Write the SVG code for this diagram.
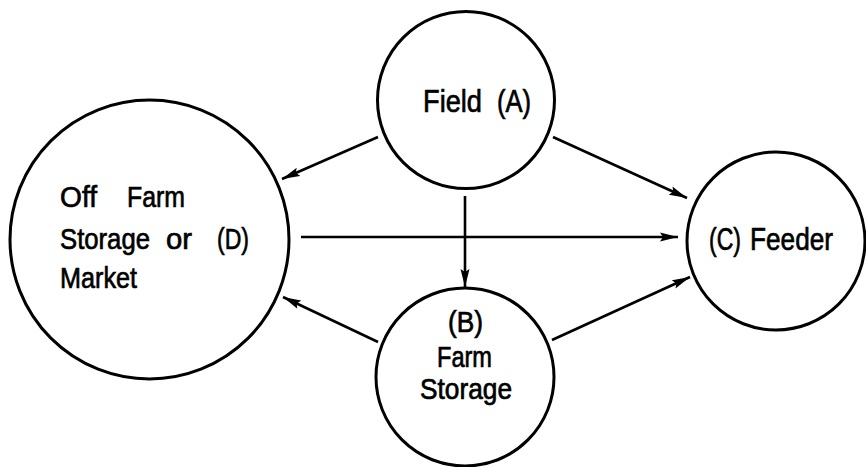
<svg xmlns="http://www.w3.org/2000/svg" width="866" height="467" viewBox="0 0 866 467">
<defs>
<style>
.node circle{fill:none;stroke:#000;stroke-width:3}
.lbl{font-family:"Liberation Sans",Arial,sans-serif;font-size:32px;fill:#000;stroke:#000;stroke-width:0.7}
.lblD{font-size:30px}
.lblB{font-size:29px}
#connectors line{stroke:#000;stroke-width:2.6;fill:none;marker-end:url(#ah)}
</style>
<marker id="ah" markerUnits="userSpaceOnUse" markerWidth="20" markerHeight="10" refX="18" refY="5" orient="auto">
<path d="M0,0.5 L18,5 L0,9.5 L3,5 z" fill="#000"/>
</marker>
</defs>
<rect width="866" height="467" fill="#fff"/>
<g id="nodeA" class="node">
<circle cx="466" cy="100" r="88.5"/>
<text class="lbl" y="112"><tspan x="423" textLength="59" lengthAdjust="spacingAndGlyphs">Field</tspan><tspan x="497" textLength="34" lengthAdjust="spacingAndGlyphs">(A)</tspan></text>
</g>
<g id="nodeD" class="node">
<circle cx="149.5" cy="239.5" r="139.5"/>
<text class="lbl lblD" y="207"><tspan x="60" textLength="37" lengthAdjust="spacingAndGlyphs">Off</tspan><tspan x="127" textLength="58" lengthAdjust="spacingAndGlyphs">Farm</tspan></text>
<text class="lbl lblD" y="249"><tspan x="60" textLength="90" lengthAdjust="spacingAndGlyphs">Storage</tspan><tspan x="166" textLength="26" lengthAdjust="spacingAndGlyphs">or</tspan><tspan x="217" textLength="32" lengthAdjust="spacingAndGlyphs">(D)</tspan></text>
<text class="lbl lblD" x="60" y="288" textLength="77" lengthAdjust="spacingAndGlyphs">Market</text>
</g>
<g id="nodeC" class="node">
<circle cx="776" cy="241" r="89"/>
<text class="lbl" y="250"><tspan x="709" textLength="32" lengthAdjust="spacingAndGlyphs">(C)</tspan><tspan x="750" textLength="83" lengthAdjust="spacingAndGlyphs">Feeder</tspan></text>
</g>
<g id="nodeB" class="node">
<circle cx="465" cy="377" r="89"/>
<text class="lbl lblB" x="448" y="332" textLength="35" lengthAdjust="spacingAndGlyphs">(B)</text>
<text class="lbl lblB" x="437" y="367" textLength="55" lengthAdjust="spacingAndGlyphs">Farm</text>
<text class="lbl lblB" x="420" y="399" textLength="92" lengthAdjust="spacingAndGlyphs">Storage</text>
</g>
<g id="connectors">
<line x1="378" y1="137" x2="282" y2="179"/>
<line x1="553" y1="137" x2="687" y2="198"/>
<line x1="465" y1="196" x2="465" y2="287"/>
<line x1="301" y1="237" x2="678" y2="237"/>
<line x1="378" y1="342" x2="283" y2="297"/>
<line x1="552" y1="340" x2="690" y2="277"/>
</g>
</svg>
